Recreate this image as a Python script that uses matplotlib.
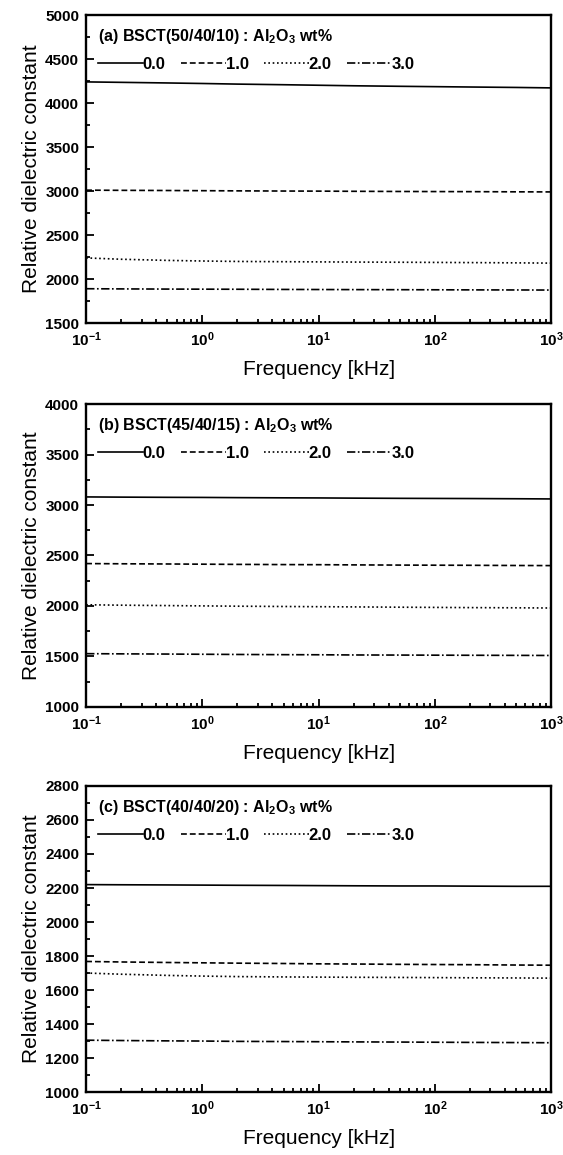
import matplotlib
matplotlib.use('Agg')
import matplotlib.pyplot as plt
from matplotlib.ticker import MultipleLocator, LogLocator, NullFormatter

plt.rcParams['font.family'] = ['Liberation Sans', 'DejaVu Sans']
plt.rcParams['mathtext.fontset'] = 'custom'
plt.rcParams['mathtext.rm'] = 'Liberation Sans:bold'
plt.rcParams['mathtext.it'] = 'Liberation Sans:bold'
plt.rcParams['mathtext.bf'] = 'Liberation Sans:bold'

freq = [0.1, 0.2, 0.5, 1, 2, 5, 10, 20, 50, 100, 200, 500, 1000]
wt_labels = ['0.0', '1.0', '2.0', '3.0']

titles = ['(a) BSCT(50/40/10) : Al$_2$O$_3$ wt%',
          '(b) BSCT(45/40/15) : Al$_2$O$_3$ wt%',
          '(c) BSCT(40/40/20) : Al$_2$O$_3$ wt%']

# panel a
a_00 = [4240, 4235, 4228, 4222, 4215, 4208, 4202, 4196, 4190, 4186, 4182, 4177, 4172]
a_10 = [3010, 3008, 3006, 3004, 3002, 3000, 2999, 2997, 2995, 2994, 2993, 2991, 2990]
a_20 = [2240, 2225, 2212, 2205, 2200, 2197, 2195, 2193, 2191, 2189, 2187, 2184, 2181]
a_30 = [1890, 1888, 1886, 1885, 1884, 1882, 1881, 1880, 1879, 1878, 1877, 1876, 1875]

# panel b
b_00 = [3080, 3078, 3076, 3075, 3073, 3071, 3070, 3068, 3066, 3065, 3064, 3062, 3060]
b_10 = [2420, 2418, 2416, 2414, 2412, 2410, 2409, 2407, 2405, 2404, 2403, 2401, 2400]
b_20 = [2012, 2008, 2004, 2001, 1998, 1995, 1993, 1991, 1988, 1986, 1984, 1982, 1980]
b_30 = [1528, 1526, 1524, 1522, 1520, 1518, 1517, 1515, 1514, 1513, 1512, 1511, 1510]

# panel c
c_00 = [2220, 2219, 2218, 2217, 2216, 2215, 2214, 2213, 2212, 2212, 2211, 2210, 2210]
c_10 = [1768, 1765, 1762, 1760, 1758, 1756, 1754, 1753, 1751, 1750, 1749, 1747, 1746]
c_20 = [1700, 1693, 1686, 1682, 1679, 1677, 1676, 1675, 1674, 1673, 1672, 1671, 1670]
c_30 = [1305, 1303, 1301, 1300, 1298, 1297, 1296, 1295, 1294, 1293, 1292, 1291, 1290]

series = [[a_00, a_10, a_20, a_30],
          [b_00, b_10, b_20, b_30],
          [c_00, c_10, c_20, c_30]]
ylims = [(1500, 5000), (1000, 4000), (1000, 2800)]
ymajor = [500, 500, 200]

styles = ['-', (0, (3.5, 1.8)), (0, (1, 1.6)), (0, (5, 1.5, 1, 1.5))]

fig = plt.figure(figsize=(5.63, 11.55), dpi=100)
boxes = [[0.153, 0.7203, 0.826, 0.2667],
         [0.153, 0.3879, 0.826, 0.2623],
         [0.153, 0.0545, 0.826, 0.2650]]

for i in range(3):
    ax = fig.add_axes(boxes[i])
    for j in range(4):
        ax.plot(freq, series[i][j], color='black', lw=1.2, ls=styles[j], label=wt_labels[j])
    ax.set_xscale('log')
    ax.set_xlim(0.1, 1000)
    ax.set_ylim(*ylims[i])
    ax.yaxis.set_major_locator(MultipleLocator(ymajor[i]))
    ax.yaxis.set_minor_locator(MultipleLocator(ymajor[i] / 2))
    ax.xaxis.set_major_locator(LogLocator(base=10))
    ax.xaxis.set_minor_locator(LogLocator(base=10, subs=range(2, 10)))
    ax.xaxis.set_minor_formatter(NullFormatter())
    ax.tick_params(which='both', direction='in', top=False, right=False, labelsize=11, width=1.3)
    ax.tick_params(which='major', length=6, pad=5)
    ax.tick_params(which='minor', length=3)
    for lab in ax.get_xticklabels() + ax.get_yticklabels():
        lab.set_fontweight('bold')
    for sp in ax.spines.values():
        sp.set_linewidth(1.7)
    ax.set_xlabel('Frequency [kHz]', fontsize=15, labelpad=8)
    ax.set_ylabel('Relative dielectric constant', fontsize=15, labelpad=3)
    leg = ax.legend(loc='upper left', ncol=4, frameon=False, title=titles[i],
                    prop={'size': 12, 'weight': 'bold'},
                    handlelength=2.7, handletextpad=0.0,
                    columnspacing=0.9, borderaxespad=0.3, alignment='left')
    leg.get_title().set_fontsize(11.5)
    leg.get_title().set_fontweight('bold')
    leg._legend_box.sep = 8

fig.savefig('out.png', dpi=100)
